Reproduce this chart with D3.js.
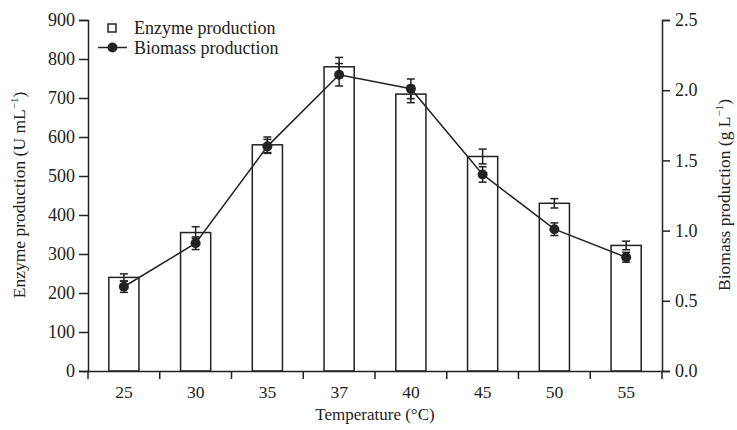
<!DOCTYPE html>
<html>
<head>
<meta charset="utf-8">
<script src="https://cdn.jsdelivr.net/npm/d3@7"></script>
<style>
  body { margin: 0; background: #fff; }
  svg text { font-family: "Liberation Serif", "Times New Roman", Times, "DejaVu Serif", serif; fill: #222; }
</style>
</head>
<body>
<svg id="chart" width="737" height="430"></svg>
<script>
// Chart data
var temperatures = ['25', '30', '35', '37', '40', '45', '50', '55'];
var enzyme = [240, 355, 580, 780, 710, 550, 430, 322];
var enzymeErr = [9, 15, 20, 24, 22, 19, 12, 11];
var biomass = [0.60, 0.91, 1.60, 2.11, 2.01, 1.40, 1.01, 0.81];
var biomassErr = [0.04, 0.045, 0.05, 0.08, 0.07, 0.055, 0.045, 0.035];
var enzymeTicks = [0, 100, 200, 300, 400, 500, 600, 700, 800, 900];
var biomassTicks = [0, 0.5, 1.0, 1.5, 2.0, 2.5];

// plot area (note: "top" is reserved on window, so use plot_ names)
var plot_left = 88, plot_right = 662, plot_top = 20, plot_bottom = 371;
var svg = d3.select('#chart');

// Scales
var x = d3.scaleBand().domain(temperatures).range([plot_left, plot_right]).paddingInner(0.58).paddingOuter(0.29);
var xOuter = d3.scaleBand().domain(temperatures).range([plot_left, plot_right]);
var yLeft = d3.scaleLinear().domain([0, 900]).range([plot_bottom, plot_top]);
var yRight = d3.scaleLinear().domain([0, 2.5]).range([plot_bottom, plot_top]);

// Bars
svg.append('g').selectAll('rect')
   .data(enzyme)
   .enter().append('rect')
   .attr('x', function(d, i) { return x(temperatures[i]); })
   .attr('y', function(d) { return yLeft(d); })
   .attr('width', x.bandwidth())
   .attr('height', function(d) { return plot_bottom - yLeft(d); })
   .attr('fill', '#fff')
   .attr('stroke', '#222')
   .attr('stroke-width', 1.5);

function cx(i) { return x(temperatures[i]) + x.bandwidth() / 2; }

// Error bars helper
function errorBars(values, errs, scale) {
  var g = svg.append('g').attr('stroke', '#222').attr('stroke-width', 1.5);
  values.forEach(function(v, i) {
    var c = cx(i), hi = scale(v + errs[i]), lo = scale(v - errs[i]);
    g.append('line').attr('x1', c).attr('x2', c).attr('y1', hi).attr('y2', lo);
    g.append('line').attr('x1', c - 4).attr('x2', c + 4).attr('y1', hi).attr('y2', hi);
    g.append('line').attr('x1', c - 4).attr('x2', c + 4).attr('y1', lo).attr('y2', lo);
  });
}
errorBars(enzyme, enzymeErr, yLeft);

// Biomass line
var line = d3.line()
  .x(function(d, i) { return cx(i); })
  .y(function(d) { return yRight(d); });
svg.append('path')
   .datum(biomass)
   .attr('d', line)
   .attr('fill', 'none')
   .attr('stroke', '#222')
   .attr('stroke-width', 1.5);
errorBars(biomass, biomassErr, yRight);
svg.append('g').selectAll('circle')
   .data(biomass)
   .enter().append('circle')
   .attr('cx', function(d, i) { return cx(i); })
   .attr('cy', function(d) { return yRight(d); })
   .attr('r', 5)
   .attr('fill', '#222');

// Axes
var leftAxis = svg.append('g')
  .attr('transform', 'translate(' + plot_left + ',0)')
  .call(d3.axisLeft(yLeft).tickValues(enzymeTicks).tickSize(9).tickPadding(4));
var rightAxis = svg.append('g')
  .attr('transform', 'translate(' + plot_right + ',0)')
  .call(d3.axisRight(yRight).tickValues(biomassTicks).tickSize(8).tickPadding(5).tickFormat(d3.format('.1f')));
var xAxis = svg.append('g')
  .attr('transform', 'translate(0,' + plot_bottom + ')')
  .call(d3.axisBottom(xOuter).tickSize(0).tickPadding(15));
// ticks at band boundaries
xAxis.selectAll('.bound')
  .data(d3.range(temperatures.length + 1))
  .enter().append('line')
  .attr('x1', function(i) { return plot_left + i * xOuter.step(); })
  .attr('x2', function(i) { return plot_left + i * xOuter.step(); })
  .attr('y1', 0).attr('y2', 8)
  .attr('stroke', '#222').attr('stroke-width', 1.5);

[leftAxis, rightAxis, xAxis].forEach(function(a) {
  a.attr('font-family', null);
  a.selectAll('path.domain').attr('stroke', '#222').attr('stroke-width', 1.5);
  a.selectAll('.tick line').attr('stroke', '#222').attr('stroke-width', 1.5);
  a.selectAll('text').attr('font-size', 18).attr('fill', '#222');
});
xAxis.selectAll('text').attr('font-size', 17.5);

// Axis titles
svg.append('text')
   .attr('x', 375).attr('y', 420)
   .attr('text-anchor', 'middle')
   .attr('font-size', 17)
   .text('Temperature (\u00B0C)');

var lt = svg.append('text')
   .attr('transform', 'translate(25,195) rotate(-90)')
   .attr('text-anchor', 'middle')
   .attr('font-size', 17.5);
lt.append('tspan').text('Enzyme production (U mL');
lt.append('tspan').attr('font-size', 11).attr('dy', -7).text('\u22121');
lt.append('tspan').attr('dy', 7).text(')');

var rt = svg.append('text')
   .attr('transform', 'translate(730,195) rotate(-90)')
   .attr('text-anchor', 'middle')
   .attr('font-size', 17.5);
rt.append('tspan').text('Biomass production (g L');
rt.append('tspan').attr('font-size', 11).attr('dy', -7).text('\u22121');
rt.append('tspan').attr('dy', 7).text(')');

// Legend
var legend = svg.append('g');
legend.append('rect')
      .attr('x', 108).attr('y', 24).attr('width', 8).attr('height', 8)
      .attr('fill', '#fff').attr('stroke', '#222').attr('stroke-width', 1.5);
legend.append('text').attr('x', 134).attr('y', 34).attr('font-size', 18).text('Enzyme production');
legend.append('line')
      .attr('x1', 98).attr('x2', 127).attr('y1', 47.5).attr('y2', 47.5)
      .attr('stroke', '#222').attr('stroke-width', 1.5);
legend.append('circle').attr('cx', 112.5).attr('cy', 47.5).attr('r', 5).attr('fill', '#222');
legend.append('text').attr('x', 134).attr('y', 54).attr('font-size', 18).text('Biomass production');
</script>
</body>
</html>
